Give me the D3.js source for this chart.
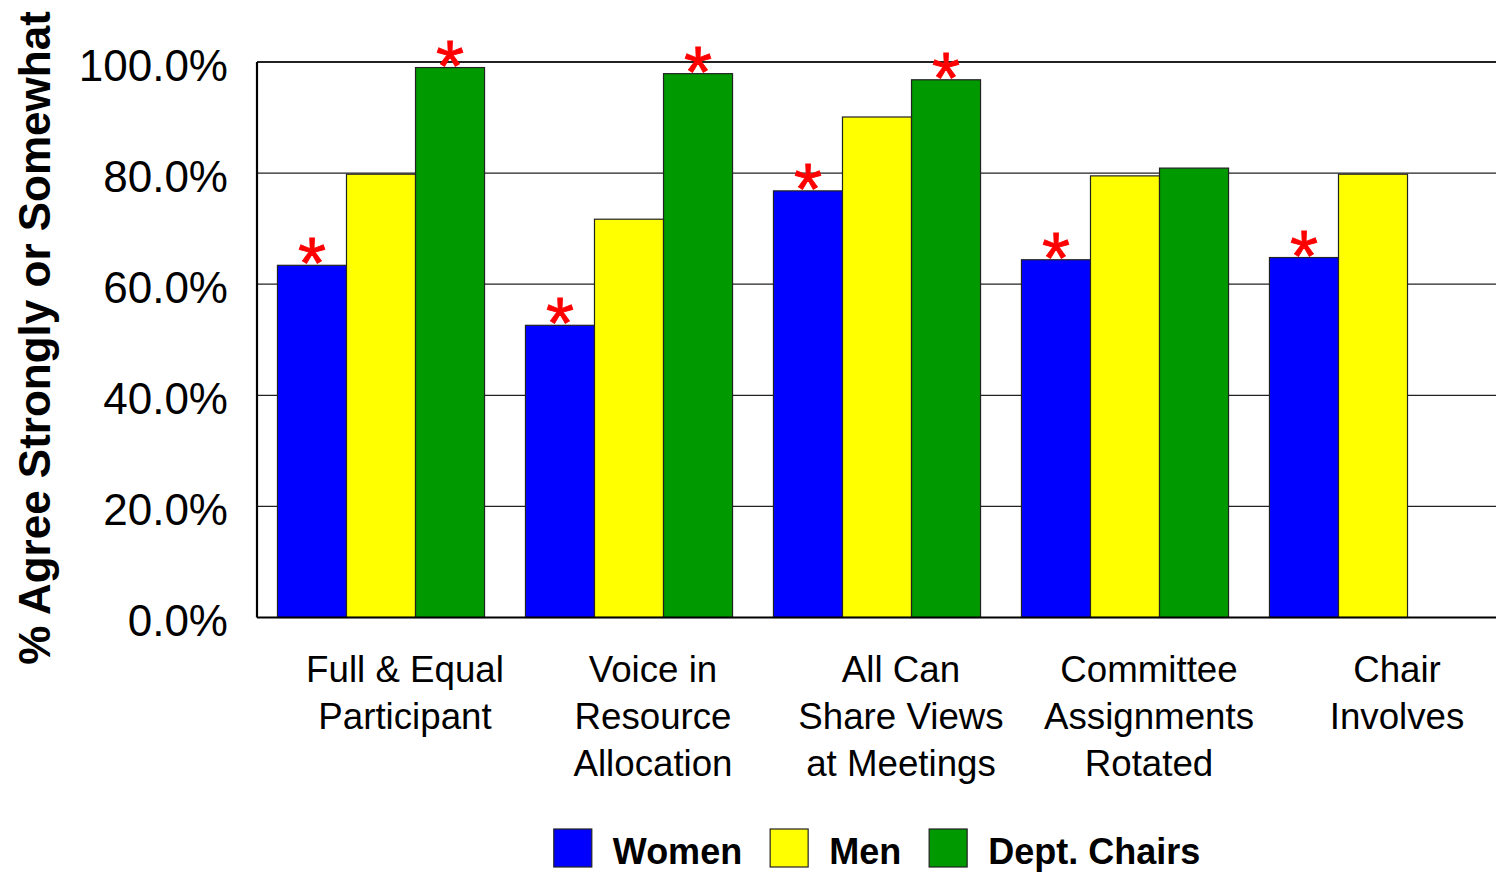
<!DOCTYPE html>
<html>
<head>
<meta charset="utf-8">
<script src="https://cdn.jsdelivr.net/npm/d3@7"></script>
<style>
  html, body { margin: 0; padding: 0; background: #fff; }
  svg { display: block; }
  text { font-family: "Liberation Sans", Arial, sans-serif; }
</style>
</head>
<body>
<svg id="chart" width="1496" height="872"></svg>
<script>
// ---- data ----
const categories = [
  "Full & Equal\nParticipant",
  "Voice in\nResource\nAllocation",
  "All Can\nShare Views\nat Meetings",
  "Committee\nAssignments\nRotated",
  "Chair\nInvolves"
];
const seriesNames = ["Women", "Men", "Dept. Chairs"];
const women  = [63.4, 52.6, 76.8, 64.4, 64.8];
const men    = [79.8, 71.7, 90.1, 79.5, 79.8];
const chairs = [99.0, 97.9, 96.8, 80.9, null];
const womenSig  = [true, true, true, true, true];
const menSig    = [false, false, false, false, false];
const chairsSig = [true, true, true, false, false];
const yTicks = [0, 20, 40, 60, 80, 100];
const yTitle = "% Agree Strongly or Somewhat";
const colors = ["#0000ff", "#ffff00", "#009900"];

// ---- build ----
const values = [women, men, chairs];
const sigs = [womenSig, menSig, chairsSig];
const svg = d3.select("#chart");

const plot = { left: 257, right: 1497, top: 62, bottom: 617.5 };

const x = d3.scaleBand()
  .domain(categories)
  .range([plot.left, plot.right])
  .paddingInner(0.165)
  .paddingOuter(0.0825);

const xs = d3.scaleBand()
  .domain(seriesNames)
  .range([0, x.bandwidth()])
  .padding(0);

const y = d3.scaleLinear().domain([0, 100]).range([plot.bottom, plot.top]);

// gridlines
svg.append("g").selectAll("line")
  .data(yTicks.filter(d => d > 0))
  .join("line")
  .attr("x1", plot.left).attr("x2", plot.right)
  .attr("y1", d => y(d)).attr("y2", d => y(d))
  .attr("stroke", "#222")
  .attr("stroke-width", d => d === 100 ? 2 : 1.2);

// bars
const rows = [];
categories.forEach((c, i) => {
  seriesNames.forEach((s, j) => {
    const v = values[j][i];
    if (v !== null && v !== undefined) rows.push({ c, s, v, j, sig: sigs[j][i] });
  });
});

svg.append("g").selectAll("rect")
  .data(rows)
  .join("rect")
  .attr("x", d => x(d.c) + xs(d.s))
  .attr("y", d => y(d.v))
  .attr("width", xs.bandwidth())
  .attr("height", d => y(0) - y(d.v))
  .attr("fill", d => colors[d.j])
  .attr("stroke", "#222")
  .attr("stroke-width", 1.2);

// significance asterisks
svg.append("g").selectAll("text")
  .data(rows.filter(d => d.sig))
  .join("text")
  .attr("x", d => x(d.c) + xs(d.s) + xs.bandwidth() / 2)
  .attr("y", d => y(d.v) + 23)
  .attr("text-anchor", "middle")
  .attr("font-size", 72)
  .attr("fill", "#ff0000")
  .attr("stroke", "#ff0000")
  .attr("stroke-width", 0.8)
  .text("*");

// axes lines
svg.append("line")
  .attr("x1", plot.left).attr("x2", plot.left)
  .attr("y1", plot.top).attr("y2", plot.bottom)
  .attr("stroke", "#000").attr("stroke-width", 2.2);
svg.append("line")
  .attr("x1", plot.left).attr("x2", plot.right)
  .attr("y1", plot.bottom).attr("y2", plot.bottom)
  .attr("stroke", "#000").attr("stroke-width", 2.2);

// y axis labels
svg.append("g").selectAll("text")
  .data(yTicks)
  .join("text")
  .attr("x", 228)
  .attr("y", d => y(d) + 3)
  .attr("dy", "0.36em")
  .attr("text-anchor", "end")
  .attr("font-size", 44)
  .attr("fill", "#000")
  .text(d => d3.format(".1f")(d) + "%");

// y title
svg.append("text")
  .attr("transform", "translate(50,338) rotate(-90)")
  .attr("text-anchor", "middle")
  .attr("font-size", 44)
  .attr("font-weight", "bold")
  .attr("fill", "#000")
  .text(yTitle);

// x labels
const xl = svg.append("g").selectAll("text")
  .data(categories)
  .join("text")
  .attr("x", d => x(d) + x.bandwidth() / 2 + 24)
  .attr("y", 682)
  .attr("text-anchor", "middle")
  .attr("font-size", 36.7)
  .attr("fill", "#000");
xl.each(function(d) {
  const t = d3.select(this);
  const cx = t.attr("x");
  d.split("\n").forEach((line, k) => {
    t.append("tspan").attr("x", cx).attr("dy", k === 0 ? 0 : 47).text(line);
  });
});

// legend
const legend = svg.append("g");
let cursor = 0;
seriesNames.forEach((name, j) => {
  const g = legend.append("g");
  g.append("rect")
    .attr("x", cursor).attr("y", 829)
    .attr("width", 38).attr("height", 38)
    .attr("fill", colors[j])
    .attr("stroke", "#222").attr("stroke-width", 1.2);
  const t = g.append("text")
    .attr("x", cursor + 59).attr("y", 864)
    .attr("font-size", 36)
    .attr("font-weight", "bold")
    .attr("fill", "#000")
    .text(name);
  const w = t.node().getComputedTextLength();
  cursor += 59 + w + 28;
});
const totalW = cursor - 28;
legend.attr("transform", `translate(${(plot.left + plot.right) / 2 - totalW / 2},0)`);
</script>
</body>
</html>
